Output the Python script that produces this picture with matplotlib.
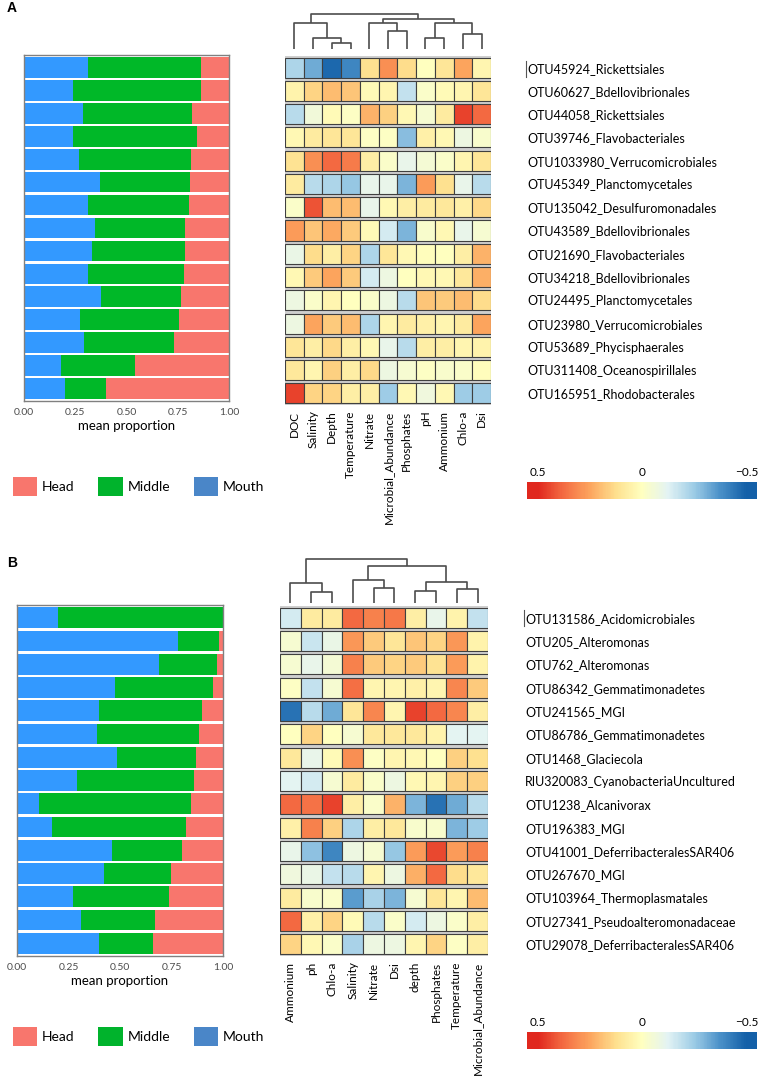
import numpy as np
import matplotlib
matplotlib.use("Agg")
import matplotlib.pyplot as plt
from matplotlib.colors import LinearSegmentedColormap, Normalize
from matplotlib.patches import Patch
from matplotlib.lines import Line2D

plt.rcParams['font.family'] = ['Lato', 'DejaVu Sans']

W, H = 765, 1081

# ---- panel A data ----
otus_a = ["OTU45924_Rickettsiales", "OTU60627_Bdellovibrionales", "OTU44058_Rickettsiales",
          "OTU39746_Flavobacteriales", "OTU1033980_Verrucomicrobiales", "OTU45349_Planctomycetales",
          "OTU135042_Desulfuromonadales", "OTU43589_Bdellovibrionales", "OTU21690_Flavobacteriales",
          "OTU34218_Bdellovibrionales", "OTU24495_Planctomycetales", "OTU23980_Verrucomicrobiales",
          "OTU53689_Phycisphaerales", "OTU311408_Oceanospirillales", "OTU165951_Rhodobacterales"]
vars_a = ["DOC", "Salinity", "Depth", "Temperature", "Nitrate", "Microbial_Abundance",
          "Phosphates", "pH", "Ammonium", "Chlo-a", "Dsi"]
mouth_a = [0.31, 0.24, 0.29, 0.24, 0.27, 0.37, 0.31, 0.345, 0.33, 0.31, 0.375, 0.275, 0.295, 0.18, 0.20]
middle_a = [0.555, 0.625, 0.53, 0.605, 0.545, 0.44, 0.495, 0.44, 0.455, 0.47, 0.39, 0.48, 0.435, 0.36, 0.20]
head_a = [0.135, 0.135, 0.18, 0.155, 0.185, 0.19, 0.195, 0.215, 0.215, 0.22, 0.235, 0.245, 0.27, 0.46, 0.60]
heat_a = [
    [-0.22, -0.32, -0.48, -0.40, 0.12, 0.30, 0.13, 0.00, 0.10, 0.25, 0.04],
    [0.05, 0.15, 0.20, 0.18, 0.02, 0.04, -0.18, -0.02, 0.02, 0.04, 0.10],
    [-0.20, -0.06, 0.02, -0.01, 0.22, 0.16, 0.03, -0.04, 0.08, 0.45, 0.38],
    [0.03, 0.08, 0.10, 0.10, -0.01, -0.01, -0.28, 0.06, 0.03, -0.08, -0.03],
    [0.11, 0.30, 0.38, 0.34, 0.07, -0.02, -0.10, -0.05, -0.02, 0.04, 0.10],
    [0.08, -0.20, -0.22, -0.26, -0.10, -0.10, -0.30, 0.27, 0.12, -0.10, -0.20],
    [-0.02, 0.42, 0.20, 0.20, -0.10, 0.03, 0.07, 0.08, 0.09, 0.06, 0.14],
    [0.27, 0.18, 0.24, 0.17, 0.02, -0.15, -0.30, -0.03, 0.03, -0.10, -0.04],
    [-0.09, 0.13, 0.07, 0.15, -0.22, 0.10, 0.03, 0.01, 0.00, 0.07, 0.22],
    [0.03, 0.17, 0.25, 0.17, -0.15, -0.08, 0.00, 0.03, 0.03, 0.09, 0.23],
    [-0.08, -0.02, 0.04, 0.00, -0.02, -0.08, -0.20, 0.18, 0.17, 0.20, 0.13],
    [-0.08, 0.25, 0.17, 0.20, -0.22, 0.04, 0.08, 0.06, 0.04, 0.08, 0.25],
    [0.10, 0.07, 0.14, 0.07, 0.03, -0.10, -0.20, 0.07, 0.07, 0.04, 0.05],
    [0.09, 0.04, 0.16, 0.07, 0.14, -0.08, -0.04, -0.01, -0.03, -0.02, 0.01],
    [0.45, 0.15, 0.15, 0.07, 0.07, -0.25, 0.03, -0.07, 0.03, -0.25, -0.25],
]
# merges: (child, child, height); leaves are 0..n-1, new nodes n, n+1, ...
links_a = [(2, 3, 6), (1, 11, 11), (0, 12, 26), (5, 6, 18), (4, 14, 26),
           (7, 8, 11), (9, 10, 15), (16, 17, 26), (15, 18, 30), (13, 19, 35)]

# ---- panel B data ----
otus_b = ["OTU131586_Acidomicrobiales", "OTU205_Alteromonas", "OTU762_Alteromonas",
          "OTU86342_Gemmatimonadetes", "OTU241565_MGI", "OTU86786_Gemmatimonadetes",
          "OTU1468_Glaciecola", "RIU320083_CyanobacteriaUncultured", "OTU1238_Alcanivorax",
          "OTU196383_MGI", "OTU41001_DeferribacteralesSAR406", "OTU267670_MGI",
          "OTU103964_Thermoplasmatales", "OTU27341_Pseudoalteromonadaceae",
          "OTU29078_DeferribacteralesSAR406"]
vars_b = ["Ammonium", "ph", "Chlo-a", "Salinity", "Nitrate", "Dsi", "depth",
          "Phosphates", "Temperature", "Microbial_Abundance"]
mouth_b = [0.20, 0.78, 0.69, 0.475, 0.40, 0.39, 0.485, 0.29, 0.105, 0.17, 0.46, 0.42, 0.27, 0.31, 0.40]
middle_b = [0.80, 0.20, 0.28, 0.475, 0.50, 0.495, 0.385, 0.57, 0.74, 0.65, 0.34, 0.33, 0.47, 0.36, 0.26]
head_b = [0.0, 0.02, 0.03, 0.05, 0.10, 0.115, 0.13, 0.14, 0.155, 0.18, 0.20, 0.25, 0.26, 0.33, 0.34]
heat_b = [
    [-0.15, 0.08, 0.08, 0.38, 0.33, 0.35, 0.07, -0.10, 0.05, -0.18],
    [-0.04, -0.17, -0.09, 0.28, 0.17, 0.10, 0.18, 0.15, 0.28, 0.05],
    [-0.04, -0.10, -0.05, 0.33, 0.17, 0.15, 0.17, 0.11, 0.27, 0.05],
    [-0.01, -0.18, -0.04, 0.37, 0.04, 0.04, 0.06, 0.04, 0.32, 0.17],
    [-0.45, -0.20, -0.32, 0.10, 0.32, 0.04, 0.45, 0.38, 0.32, 0.07],
    [0.00, 0.15, 0.00, -0.04, 0.09, 0.09, 0.09, 0.05, -0.12, -0.12],
    [0.09, -0.10, 0.02, 0.30, -0.01, 0.04, 0.03, 0.00, 0.16, 0.12],
    [-0.12, -0.15, -0.04, 0.08, -0.02, -0.08, 0.03, 0.04, 0.16, 0.16],
    [0.38, 0.36, 0.45, 0.07, -0.02, 0.22, -0.30, -0.45, -0.32, -0.20],
    [0.06, 0.33, 0.16, -0.22, 0.07, 0.09, -0.03, -0.03, -0.30, -0.25],
    [-0.10, -0.27, -0.40, -0.08, -0.04, -0.26, 0.27, 0.44, 0.27, 0.33],
    [-0.07, -0.09, -0.18, -0.20, 0.04, -0.08, 0.23, 0.38, 0.13, 0.09],
    [0.08, -0.03, -0.02, -0.35, -0.23, -0.30, -0.04, 0.10, 0.04, 0.20],
    [0.38, 0.06, 0.15, 0.02, -0.20, -0.02, -0.15, -0.08, -0.02, 0.07],
    [0.15, 0.03, -0.02, -0.23, -0.08, -0.08, 0.04, 0.15, -0.01, 0.07],
]
links_b = [(1, 2, 11), (0, 10, 20), (4, 5, 15), (3, 12, 23), (6, 7, 12),
           (8, 9, 14), (14, 15, 21), (13, 16, 37), (11, 17, 44)]

parts = ["Head", "Middle", "Mouth"]
bar_colors = {"Head": "#F8766D", "Middle": "#00B828", "Mouth": "#3399FF"}
legend_colors = {"Head": "#F8766D", "Middle": "#00B32C", "Mouth": "#4A86C8"}

cmap = LinearSegmentedColormap.from_list(
    "rdylbu", ["#1460A8", "#4A90C8", "#9DCCE6", "#E3F3F4", "#FFFFC0",
               "#FEE08E", "#FCA55E", "#F46D43", "#E0281E"])
norm = Normalize(-0.5, 0.5)

fig = plt.figure(figsize=(W / 100, H / 100), dpi=100)


def px_axes(x0, y0, x1, y1):
    return fig.add_axes([x0 / W, 1 - y1 / H, (x1 - x0) / W, (y1 - y0) / H])


def draw_bars(box, mouth, middle, head):
    ax = px_axes(*box)
    y = np.arange(len(mouth))
    mouth = np.array(mouth)
    middle = np.array(middle)
    ax.barh(y, mouth, height=0.9, color=bar_colors["Mouth"])
    ax.barh(y, middle, left=mouth, height=0.9, color=bar_colors["Middle"])
    ax.barh(y, head, left=mouth + middle, height=0.9, color=bar_colors["Head"])
    ax.set_xlim(0, 1)
    ax.set_ylim(len(mouth) - 0.45, -0.55)
    ax.set_yticks([])
    ax.set_xticks([0, 0.25, 0.5, 0.75, 1.0])
    ax.set_xticklabels(["0.00", "0.25", "0.50", "0.75", "1.00"])
    ax.tick_params(axis="x", length=0, pad=5, labelsize=7.5, labelcolor="#4D4D4D")
    ax.set_xlabel("mean proportion", fontsize=9.5, labelpad=2)
    for s in ax.spines.values():
        s.set_color("#808080")
        s.set_linewidth(1)


def draw_heat(box, data, rows, cols, pad_px):
    ax = px_axes(*box)
    data = np.array(data)
    n_r, n_c = data.shape
    ax.set_facecolor("#cfcfcf")
    for i in range(n_r):
        ax.barh(i, 1, left=np.arange(n_c), height=0.86, align="center",
                color=cmap(norm(data[i])), edgecolor="#404040", linewidth=0.8)
    ax.set_xlim(0, n_c)
    ax.set_ylim(n_r - 0.5, -0.5)
    ax.set_xticks(np.arange(n_c) + 0.5)
    ax.set_xticklabels(cols, rotation=90, fontsize=8.5)
    ax.set_yticks(np.arange(n_r))
    ax.set_yticklabels(rows, fontsize=9)
    ax.yaxis.tick_right()
    ax.tick_params(axis="y", length=0, pad=pad_px * 0.72)
    ax.tick_params(axis="x", length=0, pad=4)
    for s in ax.spines.values():
        s.set_visible(False)


def draw_dendro(box, links, n_leaves, top):
    ax = px_axes(*box)
    pos = {i: i + 0.5 for i in range(n_leaves)}
    hgt = {i: 0.0 for i in range(n_leaves)}
    node = n_leaves
    for a, b, h in links:
        xa, xb = pos[a], pos[b]
        ax.plot([xa, xa, xb, xb], [hgt[a], h, h, hgt[b]], color="#4d4d4d", lw=1.2,
                solid_capstyle="butt")
        pos[node] = (xa + xb) / 2
        hgt[node] = h
        node += 1
    ax.set_xlim(0, n_leaves)
    ax.set_ylim(0, top)
    ax.axis("off")


def draw_cbar(box):
    ax = px_axes(*box)
    edges = np.linspace(-0.55, 0.55, 221)
    centers = (edges[:-1] + edges[1:]) / 2
    ax.pcolormesh(edges, [0, 1], centers[None, :], cmap=cmap, norm=norm)
    ax.set_xlim(0.55, -0.55)
    ax.set_yticks([])
    ax.set_xticks([0.5, 0, -0.5])
    ax.set_xticklabels(["0.5", "0", "\u22120.5"])
    ax.xaxis.tick_top()
    ax.tick_params(axis="x", length=0, pad=3, labelsize=8.5)
    for s in ax.spines.values():
        s.set_visible(False)


def draw_legend(x, y):
    handles = [Patch(facecolor=legend_colors[p], edgecolor="none", label=p) for p in parts]
    fig.legend(handles=handles, loc="upper left", bbox_to_anchor=(x / W, 1 - y / H),
               ncol=3, frameon=False, fontsize=10, handlelength=1.75, handleheight=1.75,
               handletextpad=0.35, columnspacing=1.7, borderpad=0, borderaxespad=0)


def draw_cursor(x, y0, y1):
    # thin text-cursor mark in front of the first row label
    fig.add_artist(Line2D([x / W, x / W], [1 - y0 / H, 1 - y1 / H],
                          color="#555555", lw=0.8))


# ---- panel A ----
fig.text(7 / W, 1 - 8.5 / H, "A", fontsize=10, fontweight="bold",
         family="Liberation Sans", va="center", ha="left")
draw_bars((24, 55, 229, 401), mouth_a, middle_a, head_a)
draw_dendro((285, 8, 491, 49), links_a, len(vars_a), 41)
draw_heat((285, 56, 491, 405), heat_a, otus_a, vars_a, 36)
draw_cbar((527, 482, 757, 499))
draw_legend(13, 477)
draw_cursor(526, 61, 77)

# ---- panel B ----
fig.text(7 / W, 1 - 563 / H, "B", fontsize=10, fontweight="bold",
         family="Liberation Sans", va="center", ha="left")
draw_bars((17, 605, 223, 956), mouth_b, middle_b, head_b)
draw_dendro((280, 555, 488, 603), links_b, len(vars_b), 48)
draw_heat((280, 606, 488, 956), heat_b, otus_b, vars_b, 37)
draw_cbar((527, 1032, 757, 1049))
draw_legend(13, 1027)
draw_cursor(524, 610, 626)

fig.savefig("out.png", dpi=100)
